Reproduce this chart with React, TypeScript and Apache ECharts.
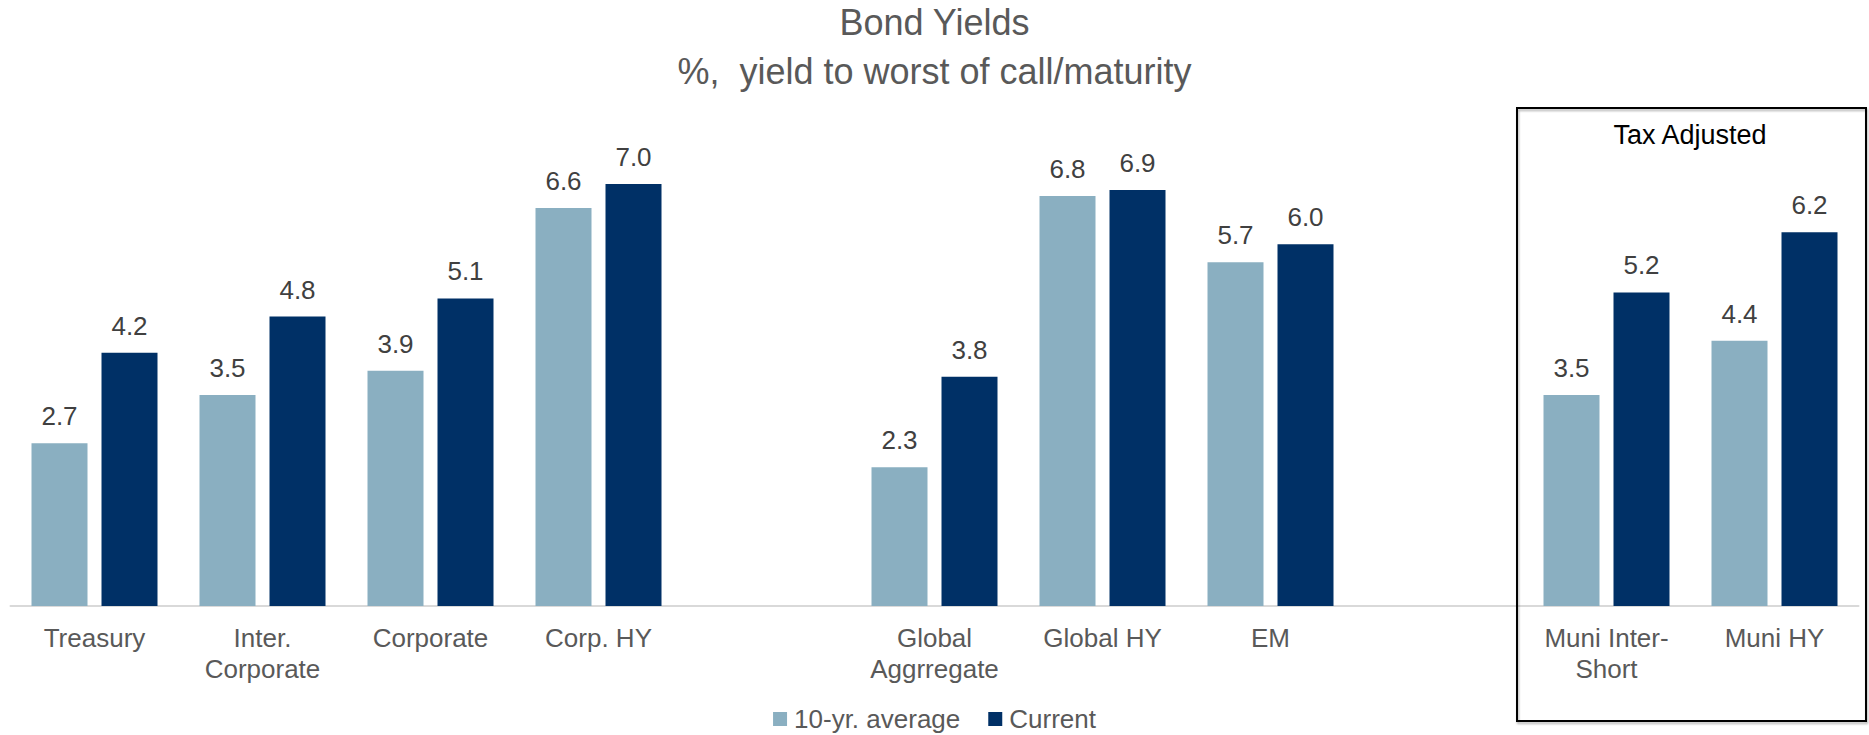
import React, { useEffect, useRef } from "react";
import * as echarts from "echarts";

const categories = [
  "Treasury",
  "Inter.\nCorporate",
  "Corporate",
  "Corp. HY",
  "",
  "Global\nAggrregate",
  "Global HY",
  "EM",
  " ",
  "Muni Inter-\nShort",
  "Muni HY",
];
const avg10yr = [2.7, 3.5, 3.9, 6.6, null, 2.3, 6.8, 5.7, null, 3.5, 4.4];
const current = [4.2, 4.8, 5.1, 7.0, null, 3.8, 6.9, 6.0, null, 5.2, 6.2];
const seriesNames = ["10-yr. average", "Current"];
const titleText = "Bond Yields";
const subtitleText = "%,  yield to worst of call/maturity";
const boxLabel = "Tax Adjusted";

const FONT = "'Liberation Sans', Arial, sans-serif";

export default function App() {
  const ref = useRef<HTMLDivElement>(null);
  useEffect(() => {
    if (!ref.current) return;
    const chart = echarts.init(ref.current, null, { renderer: "svg" });
    const labelCfg = {
      show: true,
      position: "top",
      distance: 14,
      fontSize: 26,
      fontFamily: FONT,
      color: "#404040",
      formatter: (p: any) => (p.value == null ? "" : Number(p.value).toFixed(1)),
    };
    chart.setOption({
      animation: false,
      backgroundColor: "#ffffff",
      textStyle: { fontFamily: FONT },
      title: {
        text: titleText + "\n" + subtitleText,
        left: "center",
        top: -2,
        padding: 0,
        textStyle: {
          fontSize: 36,
          lineHeight: 49,
          fontWeight: "normal",
          color: "#595959",
          fontFamily: FONT,
        },
      },
      legend: {
        data: seriesNames,
        top: 705,
        left: "center",
        padding: 0,
        icon: "rect",
        itemWidth: 14,
        itemHeight: 14,
        itemGap: 28,
        textStyle: { fontSize: 26, lineHeight: 28, color: "#595959", fontFamily: FONT, padding: [0, 0, 0, 2] },
      },
      grid: { left: 10.5, right: 10.5, top: 123.6, bottom: 129, containLabel: false },
      xAxis: {
        type: "category",
        data: categories,
        axisLine: { show: true, lineStyle: { color: "#D9D9D9", width: 2 } },
        axisTick: { show: false },
        axisLabel: {
          interval: 0,
          margin: 16,
          fontSize: 26,
          lineHeight: 31,
          color: "#595959",
          fontFamily: FONT,
        },
      },
      yAxis: {
        type: "value",
        min: 0,
        max: 8,
        show: false,
        splitLine: { show: false },
      },
      series: [
        {
          name: seriesNames[0],
          type: "bar",
          data: avg10yr,
          barWidth: 56,
          barGap: "25%",
          itemStyle: { color: "#8AAFC1" },
          label: labelCfg,
        },
        {
          name: seriesNames[1],
          type: "bar",
          data: current,
          barWidth: 56,
          barGap: "25%",
          itemStyle: { color: "#003066" },
          label: labelCfg,
        },
      ],
      graphic: [
        {
          type: "rect",
          shape: { x: 1517, y: 108, width: 349, height: 613 },
          style: {
            fill: "none",
            stroke: "#000000",
            lineWidth: 2,
            shadowColor: "rgba(0,0,0,0.3)",
            shadowBlur: 2,
            shadowOffsetX: 1,
            shadowOffsetY: 2,
          },
          z: 10,
        },
        {
          type: "text",
          x: 1690,
          y: 135,
          style: {
            text: boxLabel,
            fontSize: 27,
            fontFamily: FONT,
            fill: "#000000",
            textAlign: "center",
            textVerticalAlign: "middle",
          },
          z: 10,
        },
      ],
    });
    return () => chart.dispose();
  }, []);
  return (
    <div
      ref={ref}
      style={{ position: "fixed", left: 0, top: 0, width: 1869, height: 735 }}
    />
  );
}
